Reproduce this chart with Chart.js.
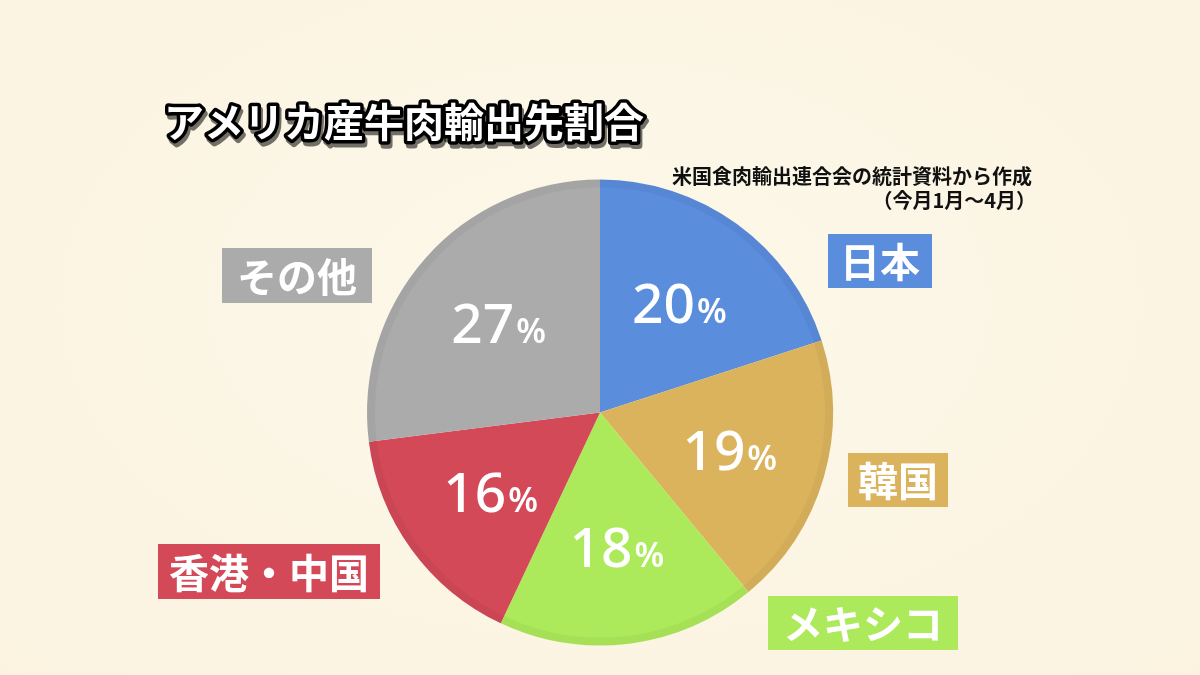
<!DOCTYPE html>
<html>
<head>
    <title>アメリカ産牛肉輸出先割合</title>
    <script src="https://cdn.jsdelivr.net/npm/chart.js"></script>
    <style>
        body { margin: 0; background: #fcf5e4; }
        #wrap { position: relative; width: 1200px; height: 675px; background: radial-gradient(ellipse at 50% 45%, #fdf8ea 0%, #fbf3e0 100%); }
    </style>
</head>
<body>
    <div id="wrap">
        <canvas id="pieChart" width="1200" height="675"></canvas>
    </div>
    <script>
        // data
        const categories = ['日本', '韓国', 'メキシコ', '香港・中国', 'その他'];
        const shares = [20, 19, 18, 16, 27];
        const sliceColors = ['#5b8ddd', '#dcb35d', '#adea5b', '#d44958', '#ababab'];
        const titleText = 'アメリカ産牛肉輸出先割合';
        const sourceLines = ['米国食肉輸出連合会の統計資料から作成', '（今月1月～4月）'];

        // where each category tag sits (x, y, w, h)
        const tagBoxes = [
            [828, 234, 104, 54],
            [848, 453, 100, 54],
            [768, 596, 190, 54],
            [158, 544, 222, 55],
            [222, 248, 150, 55]
        ];

        const labelPlugin = {
            id: 'labelPlugin',
            afterDatasetsDraw(chart) {
                const ctx = chart.ctx;
                const meta = chart.getDatasetMeta(0);
                ctx.save();

                // faint bevel along the rim
                const first = meta.data[0];
                ctx.beginPath();
                ctx.arc(first.x, first.y, first.outerRadius - 4, 0, Math.PI * 2);
                ctx.strokeStyle = 'rgba(0,0,0,0.04)';
                ctx.lineWidth = 8;
                ctx.stroke();

                // percentages inside slices
                meta.data.forEach((arc, i) => {
                    const mid = (arc.startAngle + arc.endAngle) / 2;
                    const r = arc.outerRadius * 0.58;
                    const cx = arc.x + Math.cos(mid) * r;
                    const cy = arc.y + Math.sin(mid) * r;
                    const num = String(shares[i]);
                    ctx.font = '500 55px "Noto Sans", sans-serif';
                    const wNum = ctx.measureText(num).width;
                    ctx.font = '600 34px "Noto Sans", sans-serif';
                    const wPct = ctx.measureText('%').width;
                    const x0 = cx - (wNum + 2 + wPct) / 2;
                    const base = cy + 20;
                    ctx.fillStyle = '#ffffff';
                    ctx.textBaseline = 'alphabetic';
                    ctx.textAlign = 'left';
                    ctx.font = '500 55px "Noto Sans", sans-serif';
                    ctx.fillText(num, x0, base);
                    ctx.font = '600 34px "Noto Sans", sans-serif';
                    ctx.fillText('%', x0 + wNum + 2, base);
                });

                // category tags
                categories.forEach((name, i) => {
                    const [x, y, w, h] = tagBoxes[i];
                    ctx.fillStyle = sliceColors[i];
                    ctx.fillRect(x, y, w, h);
                    ctx.fillStyle = '#ffffff';
                    ctx.font = 'bold 40px "Noto Sans CJK JP", sans-serif';
                    ctx.textAlign = 'center';
                    ctx.textBaseline = 'middle';
                    ctx.fillText(name, x + w / 2, y + h / 2 + 1);
                });

                // title with outline
                ctx.font = 'bold 40px "Noto Sans CJK JP", sans-serif';
                ctx.textAlign = 'left';
                ctx.textBaseline = 'middle';
                ctx.lineJoin = 'round';
                ctx.strokeStyle = 'rgba(0,0,0,0.55)';
                ctx.lineWidth = 7;
                ctx.strokeText(titleText, 166, 126);
                ctx.strokeStyle = '#000000';
                ctx.lineWidth = 7;
                ctx.strokeText(titleText, 164, 122);
                ctx.fillStyle = '#ffffff';
                ctx.fillText(titleText, 164, 122);

                // source note
                ctx.fillStyle = '#111111';
                ctx.font = 'bold 20px "Noto Sans CJK JP", sans-serif';
                ctx.textAlign = 'right';
                ctx.fillText(sourceLines[0], 1032, 176);
                ctx.fillText(sourceLines[1], 1036, 200);
                ctx.restore();
            }
        };

        const pieChart = new Chart(document.getElementById('pieChart').getContext('2d'), {
            type: 'pie',
            data: {
                labels: categories,
                datasets: [
                    {
                        data: shares,
                        backgroundColor: sliceColors,
                        borderWidth: 0,
                    },
                ],
            },
            options: {
                responsive: false,
                maintainAspectRatio: false,
                animation: false,
                layout: {
                    padding: { left: 367, right: 367, top: 179, bottom: 29 },
                },
                plugins: {
                    legend: { display: false },
                    tooltip: { enabled: false },
                },
            },
            plugins: [labelPlugin],
        });
    </script>
</body>
</html>
